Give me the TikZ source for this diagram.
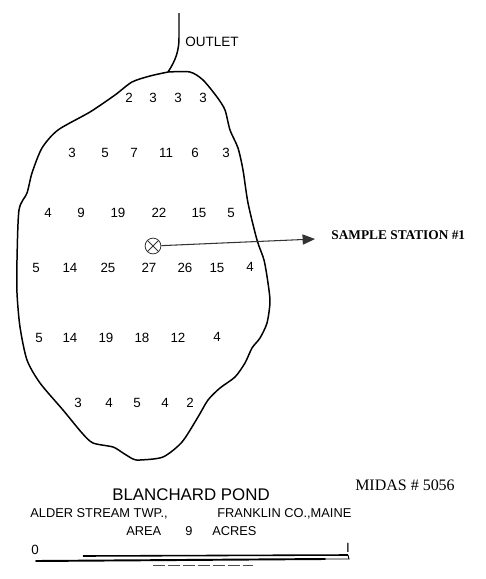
\documentclass[tikz,border=0pt]{standalone}
\usepackage{fontspec}
\setmainfont{Liberation Sans}
\newfontfamily\serifnote{Liberation Serif}
\usetikzlibrary{arrows,shapes}
\usetikzlibrary{positioning}
\tikzstyle{depth}=[inner sep=0pt,font=\fontsize{7.6}{9}\selectfont]
\tikzstyle{caption}=[inner sep=0pt,anchor=base west,font=\fontsize{7.3}{9}\selectfont]
\tikzstyle{shoreline}=[draw,line width=0.85pt,line join=round]
\tikzstyle{station}=[circle,draw=black!80,line width=0.45pt,minimum size=9pt,inner sep=0pt]
\tikzstyle{pointer} = [draw=black!80,line width=0.6pt,-triangle 45]

\begin{document}
\begin{tikzpicture}[x=0.02cm,y=-0.02cm]
    \useasboundingbox (0,0) rectangle (485,579);

    % Draw the pond outline
    \draw[shoreline] plot[smooth,tension=0.45] coordinates {
        (168,72) (190,72) (203,80) (217,97) (225,110) (230,130) (238,148) (243,170) (248,203)
        (257,240) (264,260) (268,283) (270,302) (267,323) (260,338) (252,348) (245,363) (235,377)
        (220,388) (208,400) (198,417) (182,442) (163,457) (140,460) (133,459) (123,453) (113,447)
        (93,443) (82,433) (63,410) (40,383) (27,360) (20,327) (17,293) (17,260) (19,210)
        (27,193) (32,173) (42,148) (58,130) (90,112) (115,95) (132,82) (150,76) (168,72)};
    \coordinate (junction) at (168,72);
    \coordinate (streamtop) at (179,13);
    \draw[shoreline] (junction) .. controls (176,60) and (179,50) .. (179,38) -- (streamtop);
    \node[inner sep=0pt,anchor=west,font=\fontsize{7.7}{9}\selectfont] (outlet) at (185,42) {OUTLET};

    % Depth soundings
    \foreach \pos/\name/\label in {{(129,98)/a1/2}, {(153,98)/a2/3}, {(178,98)/a3/3}, {(203,98)/a4/3},
        {(72,153)/b1/3}, {(105,153)/b2/5}, {(134,153)/b3/7}, {(166,153)/b4/11}, {(195,153)/b5/6}, {(226,153)/b6/3},
        {(48,213)/c1/4}, {(81,213)/c2/9}, {(118,213)/c3/19}, {(159,213)/c4/22}, {(199,213)/c5/15}, {(231,213)/c6/5},
        {(36,268)/d1/5}, {(70,268)/d2/14}, {(108,268)/d3/25}, {(149,268)/d4/27}, {(185,268)/d5/26}, {(217,268)/d6/15}, {(250,267)/d7/4},
        {(39,338)/e1/5}, {(70,338)/e2/14}, {(106,338)/e3/19}, {(142,338)/e4/18}, {(178,338)/e5/12}, {(217,337)/e6/4},
        {(78,403)/f1/3}, {(109,403)/f2/4}, {(137,403)/f3/5}, {(165,403)/f4/4}, {(190,403)/f5/2}}
        \node[depth] (\name) at \pos {\label};

    % Sample station and its pointer
    \node[station] (st) at (153,246) {};
    \draw[draw=black!80,line width=0.45pt] (st.45) -- (st.225) (st.135) -- (st.315);
    \node[inner sep=0pt,anchor=west,font=\serifnote\bfseries\fontsize{7.6}{9}\selectfont] (stlabel) at (331,235) {SAMPLE STATION \#1};
    \coordinate (tip) at (315,239);
    \path[pointer] (st) -- (tip);

    % Title block
    \node[inner sep=0pt,font=\fontsize{9.6}{11}\selectfont] (title) at (191,495) {BLANCHARD POND};
    \node[caption] (town) at (30,517) {ALDER STREAM TWP.,};
    \node[caption] (county) at (217,517) {FRANKLIN CO.,MAINE};
    \node[caption] (area) at (126,535) {AREA};
    \node[caption] (acres) at (185,535) {9};
    \node[caption] (unit) at (212,535) {ACRES};
    \node[inner sep=0pt,font=\serifnote\fontsize{9.1}{10}\selectfont] (midas) at (405,485) {MIDAS \# 5056};

    % Scale bar
    \node[depth] (zero) at (35,550) {0};
    \node[depth] (one) at (348,548) {I};
    \coordinate (barL) at (36,561);
    \coordinate (barM) at (325,559);
    \coordinate (barU) at (83,556);
    \coordinate (barR) at (348,555);
    \coordinate (barE) at (349,559);
    \draw[line width=1.1pt,line cap=round] (barL) -- (barM);
    \draw[line width=0.9pt] (barU) -- (barR);
    \draw[line width=0.5pt] (barM) -- (barE) -- (barR);
    \coordinate (tailL) at (153,565);
    \coordinate (tailR) at (253,565);
    \draw[line width=0.5pt,dash pattern=on 7pt off 1.5pt,black!70] (tailL) -- (tailR);
\end{tikzpicture}
\end{document}
